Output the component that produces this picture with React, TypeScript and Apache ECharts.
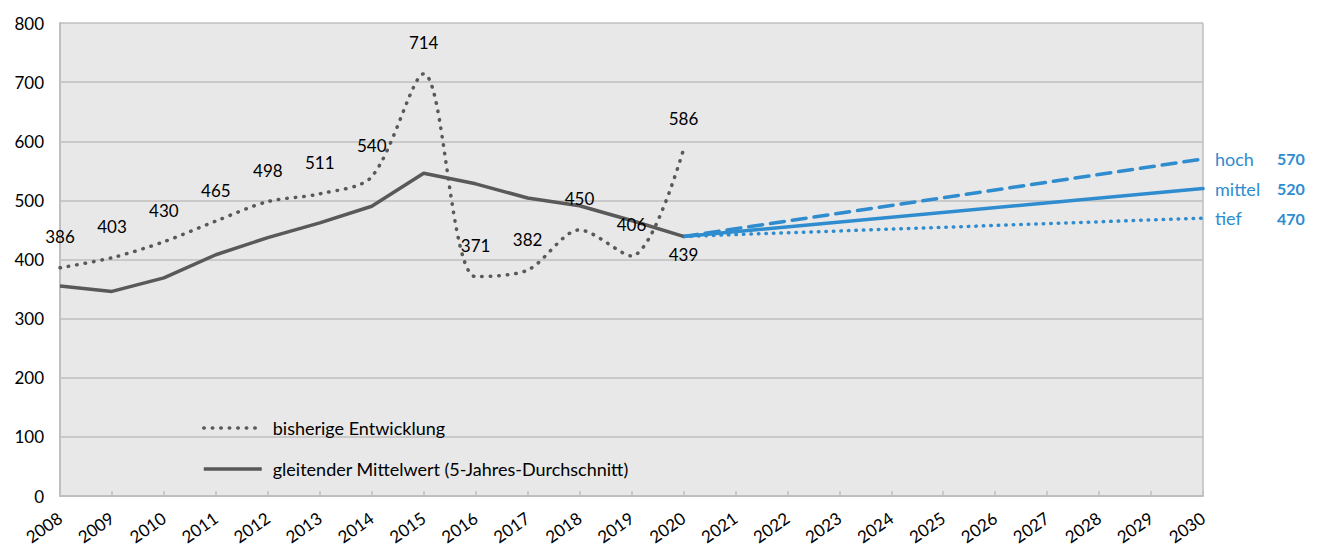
import React, { useEffect, useRef } from "react";
import * as echarts from "echarts";

const years = ["2008","2009","2010","2011","2012","2013","2014","2015","2016","2017","2018","2019","2020","2021","2022","2023","2024","2025","2026","2027","2028","2029","2030"];
const historic = [386, 403, 430, 465, 498, 511, 540, 714, 371, 382, 450, 406, 586];
const movingAvg = [355, 346, 369, 408, 437, 462, 490, 546, 528, 504, 491, 466, 439];
// projections: start (2020) and end (2030) only; straight line connects them
const projStart = 439;
const projHigh = 570;
const projMid = 520;
const projLow = 470;
const yTicks = [0, 100, 200, 300, 400, 500, 600, 700, 800];

const GRAY = "#595959";
const BLUE = "#2e8ccf";
const FONT = "Lato, 'Open Sans', sans-serif";

function projSeries(end: number) {
  const arr: (number | null)[] = years.map(() => null);
  arr[12] = projStart;
  arr[22] = end;
  return arr;
}

export default function App() {
  const ref = useRef<HTMLDivElement>(null);
  useEffect(() => {
    if (!ref.current) return;
    const chart = echarts.init(ref.current, undefined, { renderer: "svg" });
    const makeProj = (name: string, end: number, lineType: any) => ({
      type: "line",
      name,
      data: projSeries(end),
      connectNulls: true,
      symbol: "none",
      lineStyle: { color: BLUE, width: 3.5, type: lineType, cap: "round" },
      z: 3,
      endLabel: {
        show: true,
        distance: 12,
        formatter: () => `{a|${name}}{b|${end}}`,
        rich: {
          a: { color: BLUE, fontSize: 18, fontFamily: FONT, width: 62 },
          b: { color: BLUE, fontSize: 16, fontFamily: FONT, fontWeight: "bold" },
        },
      },
    });
    const valueLabel = { show: true, position: "top", distance: 22, fontSize: 17, color: "#000", fontFamily: FONT };
    chart.setOption({
      animation: false,
      textStyle: { fontFamily: FONT },
      grid: {
        left: 60,
        right: 116,
        top: 23,
        bottom: 54,
        show: true,
        backgroundColor: "#e8e8e8",
        borderWidth: 0,
        containLabel: false,
      },
      legend: {
        data: ["bisherige Entwicklung", "gleitender Mittelwert (5-Jahres-Durchschnitt)"],
        orient: "vertical",
        left: 197,
        top: 414,
        itemWidth: 58,
        itemHeight: 14,
        itemGap: 23,
        lineStyle: { width: 3.5 },
        textStyle: { fontSize: 18, color: "#000", fontFamily: FONT, padding: [0, 0, 0, 6] },
      },
      xAxis: {
        type: "category",
        data: years,
        boundaryGap: false,
        axisLine: { lineStyle: { color: "#bfbfbf", width: 2 } },
        axisTick: { inside: true, length: 5, lineStyle: { color: "#bfbfbf", width: 1.5 } },
        axisLabel: { rotate: 35, fontSize: 17, color: "#000", margin: 20, interval: 0, fontFamily: FONT },
        splitLine: { show: true, lineStyle: { color: "#bfbfbf", width: 1.5 }, interval: (i: number) => i === 22 },
      },
      yAxis: {
        type: "value",
        min: 0,
        max: 800,
        interval: 100,
        axisLine: { show: true, lineStyle: { color: "#bfbfbf", width: 2 } },
        axisTick: { show: false },
        axisLabel: { fontSize: 17, color: "#000", margin: 16, fontFamily: FONT, formatter: (v: number) => (yTicks.includes(v) ? String(v) : "") },
        splitLine: { lineStyle: { color: "#bfbfbf", width: 1.5 } },
      },
      series: [
        {
          type: "line",
          name: "bisherige Entwicklung",
          data: historic,
          smooth: 0.3,
          symbol: "circle",
          symbolSize: 1,
          showSymbol: true,
          itemStyle: { color: "rgba(0,0,0,0)" },
          lineStyle: { color: GRAY, width: 3.5, type: [0.5, 8], cap: "round" },
          label: valueLabel,
          z: 4,
        },
        {
          type: "line",
          name: "gleitender Mittelwert (5-Jahres-Durchschnitt)",
          data: movingAvg.map((v, i) =>
            i === movingAvg.length - 1
              ? { value: v, label: { show: true, position: "bottom", distance: 9, fontSize: 17, color: "#000", fontFamily: FONT } }
              : v
          ),
          symbol: "circle",
          symbolSize: 1,
          showSymbol: true,
          itemStyle: { color: "rgba(0,0,0,0)" },
          lineStyle: { color: GRAY, width: 3.5 },
          z: 4,
        },
        makeProj("hoch", projHigh, [14, 8]),
        makeProj("mittel", projMid, "solid"),
        makeProj("tief", projLow, [0.5, 7]),
      ],
    });
    return () => chart.dispose();
  }, []);
  return (
    <div
      ref={ref}
      style={{ position: "fixed", left: 0, top: 0, width: 1319, height: 550, background: "#fff" }}
    />
  );
}
